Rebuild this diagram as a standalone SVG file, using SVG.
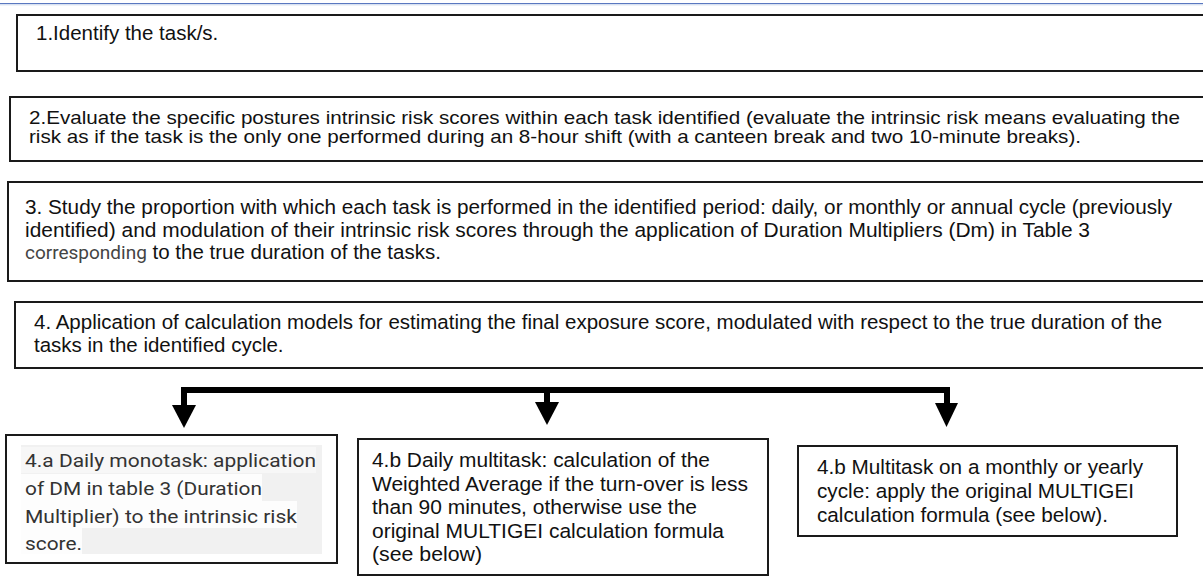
<svg xmlns="http://www.w3.org/2000/svg" width="1203" height="581" viewBox="0 0 1203 581">
<style>
.box{fill:#fff;stroke:#1a1a1a;stroke-width:2}
.t{font-family:"Liberation Sans",Arial,sans-serif;font-size:20.5px;fill:#111}
.t2{font-family:"Liberation Sans",Arial,sans-serif;font-size:18.5px;fill:#111}
.tl{font-family:"Liberation Sans",Arial,sans-serif;font-size:20.5px;fill:#111}
.r{font-family:Roboto,"Noto Sans",sans-serif;font-size:19px;fill:#333}
.rc{font-family:Roboto,"Noto Sans",sans-serif;font-size:19px;fill:#444}
.conn{stroke:#000;stroke-width:6;fill:none}
.head{fill:#000}
</style>
<rect x="0" y="0" width="1203" height="581" fill="#fff"/>
<line x1="0" y1="3.5" x2="1203" y2="3.5" stroke="#5a78c0" stroke-width="1"/>
<line x1="0" y1="4.8" x2="1203" y2="4.8" stroke="#c9d6ec" stroke-width="1"/>

<g id="step1">
<rect class="box" x="17" y="15" width="1200" height="56"/>
<text class="t" x="36" y="40">1.Identify the task/s.</text>
</g>

<g id="step2">
<rect class="box" x="10" y="97" width="1210" height="64"/>
<text class="t2" x="29" y="124" textLength="1151" lengthAdjust="spacingAndGlyphs">2.Evaluate the specific postures intrinsic risk scores within each task identified (evaluate the intrinsic risk means evaluating the</text>
<text class="t2" x="29" y="143" textLength="1052" lengthAdjust="spacingAndGlyphs">risk as if the task is the only one performed during an 8-hour shift (with a canteen break and two 10-minute breaks).</text>
</g>

<g id="step3">
<rect class="box" x="8" y="182" width="1210" height="99"/>
<text class="t" x="25" y="214" textLength="1147" lengthAdjust="spacingAndGlyphs">3. Study the proportion with which each task is performed in the identified period: daily, or monthly or annual cycle (previously</text>
<text class="t" x="25" y="236.5" textLength="1065" lengthAdjust="spacingAndGlyphs">identified) and modulation of their intrinsic risk scores through the application of Duration Multipliers (Dm) in Table 3</text>
<text class="t" x="25" y="259"><tspan class="rc">corresponding</tspan> to the true duration of the tasks.</text>
</g>

<g id="step4">
<rect class="box" x="15" y="302" width="1210" height="66"/>
<text class="t" x="34" y="329">4. Application of calculation models for estimating the final exposure score, modulated with respect to the true duration of the</text>
<text class="t" x="34" y="351.5">tasks in the identified cycle.</text>
</g>

<g id="connectors">
<path class="conn" d="M184,406 V390 H947 V404"/>
<line class="conn" x1="547" y1="390" x2="547" y2="403"/>
<polygon class="head" points="172,405 196,405 184,428"/>
<polygon class="head" points="535,402 559,402 547,425"/>
<polygon class="head" points="935,403 958,403 946.5,427"/>
</g>

<g id="step4a">
<rect class="box" x="6" y="435" width="331" height="128"/>
<rect x="21" y="445" width="301" height="109" fill="#f1f1f1"/>
<rect x="21" y="447" width="295" height="26" fill="#f7f7f7"/>
<rect x="21" y="474" width="241" height="27" fill="#fdfdfd"/>
<rect x="21" y="501" width="276" height="27" fill="#fdfdfd"/>
<rect x="21" y="528" width="61" height="26" fill="#fdfdfd"/>
<text class="r" x="25" y="467" textLength="291" lengthAdjust="spacingAndGlyphs">4.a Daily monotask: application</text>
<text class="r" x="25" y="495" textLength="237" lengthAdjust="spacingAndGlyphs">of DM in table 3 (Duration</text>
<text class="r" x="25" y="522.5" textLength="272" lengthAdjust="spacingAndGlyphs">Multiplier) to the intrinsic risk</text>
<text class="r" x="25" y="550" textLength="57" lengthAdjust="spacingAndGlyphs">score.</text>
</g>

<g id="step4b-daily">
<rect class="box" x="358" y="439" width="410" height="136"/>
<text class="tl" x="372" y="467" textLength="338" lengthAdjust="spacingAndGlyphs">4.b Daily multitask: calculation of the</text>
<text class="tl" x="372" y="491" textLength="376" lengthAdjust="spacingAndGlyphs">Weighted Average if the turn-over is less</text>
<text class="tl" x="372" y="514" textLength="325" lengthAdjust="spacingAndGlyphs">than 90 minutes, otherwise use the</text>
<text class="tl" x="372" y="537.5" textLength="352" lengthAdjust="spacingAndGlyphs">original MULTIGEI calculation formula</text>
<text class="tl" x="372" y="561" textLength="110" lengthAdjust="spacingAndGlyphs">(see below)</text>
</g>

<g id="step4b-cycle">
<rect class="box" x="798" y="446" width="379" height="90"/>
<text class="tl" x="817" y="474" textLength="326" lengthAdjust="spacingAndGlyphs">4.b Multitask on a monthly or yearly</text>
<text class="tl" x="817" y="498" textLength="317" lengthAdjust="spacingAndGlyphs">cycle: apply the original MULTIGEI</text>
<text class="tl" x="817" y="521.5" textLength="291" lengthAdjust="spacingAndGlyphs">calculation formula (see below).</text>
</g>
</svg>
